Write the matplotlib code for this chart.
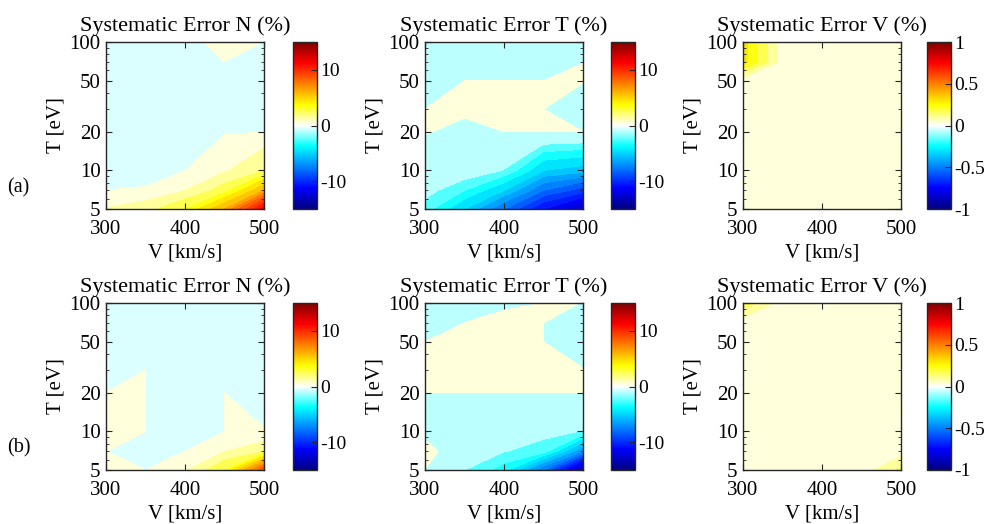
import numpy as np
import matplotlib
matplotlib.use("Agg")
import matplotlib.pyplot as plt
from matplotlib.colors import LinearSegmentedColormap, Normalize
from matplotlib.cm import ScalarMappable
from matplotlib.ticker import LogLocator, NullFormatter

plt.rcParams['font.family'] = ['Liberation Serif', 'DejaVu Serif']
plt.rcParams['axes.unicode_minus'] = False
plt.rcParams['font.size'] = 15

# grid of the simulation
v_kms = [300, 350, 400, 450, 500]
t_ev = [5, 7, 10, 20, 30, 50, 70, 100]

# systematic errors (%), rows follow t_ev, columns follow v_kms
err_n_a = [[1.05, 1.6, 3.0, 6.0, 11.5],
           [0.001, 0.1, 0.98, 2.5, 6.0],
           [-0.7, -0.5, -0.01, 0.85, 2.0],
           [-0.5, -0.5, -0.5, -0.1, -0.01],
           [-0.4, -0.4, -0.4, -0.4, -0.4],
           [-0.3, -0.3, -0.3, -0.3, -0.3],
           [-0.3, -0.3, -0.3, -0.001, -0.2],
           [-0.3, -0.3, -0.3, 0.3, -0.01]]

err_t_a = [[-2.5, -5.0, -8.0, -11.0, -13.0],
           [-1.5, -3.0, -5.0, -8.0, -9.5],
           [-0.5, -1.0, -2.05, -5.0, -5.5],
           [0.06, -0.25, 0.001, 0.001, 0.0001],
           [-0.001, 0.2, 0.5, 0.001, -0.9],
           [-0.5, 0.001, 0.001, 0.001, 0.1],
           [-0.5, -0.5, -0.5, -0.5, -0.01],
           [-0.5, -0.5, -0.5, -0.5, -0.5]]

err_v_a = [[0.03, 0.03, 0.03, 0.03, 0.03],
           [0.03, 0.03, 0.03, 0.03, 0.03],
           [0.03, 0.03, 0.03, 0.03, 0.03],
           [0.03, 0.03, 0.03, 0.03, 0.03],
           [0.03, 0.03, 0.03, 0.03, 0.03],
           [0.03, 0.03, 0.03, 0.03, 0.03],
           [0.3, 0.03, 0.03, 0.03, 0.03],
           [0.3, 0.03, 0.03, 0.03, 0.03]]

err_n_b = [[0.3, 0.001, 0.9, 3.0, 9.0],
           [0.001, -0.3, 0.001, 0.95, 1.86],
           [0.3, 0.001, -0.5, 0.001, 0.02],
           [0.001, 0.001, -0.5, 0.001, -0.3],
           [-0.3, 0.001, -0.5, -0.3, -0.3],
           [-0.3, -0.3, -0.3, -0.3, -0.3],
           [-0.3, -0.3, -0.3, -0.3, -0.3],
           [-0.3, -0.3, -0.3, -0.3, -0.3]]

err_t_b = [[-0.016, -1.99, -3.5, -8.0, -14.0],
           [0.3, -0.6, -1.95, -2.5, -7.0],
           [-0.3, -0.5, -1.0, -1.6, -2.05],
           [0.001, 0.001, 0.001, 0.001, 0.001],
           [0.5, 0.5, 0.5, 0.5, 0.026],
           [0.001, 0.5, 0.5, 0.001, -0.5],
           [-0.5, 0.001, 0.5, 0.001, -0.5],
           [-0.5, -0.5, -0.33, 0.01, -0.001]]

err_v_b = [[0.03, 0.03, 0.03, 0.03, 0.15],
           [0.03, 0.03, 0.03, 0.03, 0.03],
           [0.03, 0.03, 0.03, 0.03, 0.03],
           [0.03, 0.03, 0.03, 0.03, 0.03],
           [0.03, 0.03, 0.03, 0.03, 0.03],
           [0.03, 0.03, 0.03, 0.03, 0.03],
           [0.03, 0.03, 0.03, 0.03, 0.03],
           [0.18, 0.03, 0.03, 0.03, 0.03]]

titles = ['Systematic Error N (%)', 'Systematic Error T (%)', 'Systematic Error V (%)']
row_labels = ['(a)', '(b)']
t_ticks = [5, 10, 20, 50, 100]
v_ticks = [300, 400, 500]

lev_n = np.arange(-15, 16)
lev_t = np.r_[np.arange(-15, -1), np.arange(0, 16)]
lev_v = np.linspace(-1, 1, 31)

cmap = LinearSegmentedColormap.from_list('jetwhite', [
    (0.0, (0, 0, 0.5)), (0.125, (0, 0, 1)), (0.375, (0, 1, 1)),
    (0.5, (1, 1, 1)), (0.625, (1, 1, 0)), (0.875, (1, 0, 0)),
    (1.0, (0.5, 0, 0))], N=256)

panels = [
    [(err_n_a, lev_n, 15, [-10, 0, 10], ['-10', '0', '10']),
     (err_t_a, lev_t, 15, [-10, 0, 10], ['-10', '0', '10']),
     (err_v_a, lev_v, 1, [-1, -0.5, 0, 0.5, 1], ['-1', '-0.5', '0', '0.5', '1'])],
    [(err_n_b, lev_n, 15, [-10, 0, 10], ['-10', '0', '10']),
     (err_t_b, lev_t, 15, [-10, 0, 10], ['-10', '0', '10']),
     (err_v_b, lev_v, 1, [-1, -0.5, 0, 0.5, 1], ['-1', '-0.5', '0', '0.5', '1'])],
]

W, H = 988, 524
ax_left = [106, 425, 743]
cb_left = [293, 611, 927]
ax_top = [42, 303]
ax_w, ax_h, cb_w = 158, 167, 24
dark = '#262626'

fig = plt.figure(figsize=(W / 100, H / 100), dpi=100)

for r in range(2):
    for c in range(3):
        z, lev, lim, cticks, clabels = panels[r][c]
        norm = Normalize(-lim, lim)
        ax = fig.add_axes([ax_left[c] / W, 1 - (ax_top[r] + ax_h) / H, ax_w / W, ax_h / H])
        ax.contourf(v_kms, t_ev, np.array(z), levels=lev, cmap=cmap, norm=norm)
        ax.set_yscale('log')
        ax.set_xlim(300, 500)
        ax.set_ylim(5, 100)
        ax.set_yticks(t_ticks)
        ax.set_yticklabels([str(t) for t in t_ticks])
        ax.yaxis.set_minor_locator(LogLocator(base=10, subs=np.arange(2, 10)))
        ax.yaxis.set_minor_formatter(NullFormatter())
        ax.set_xticks(v_ticks)
        ax.tick_params(which='both', direction='in', top=True, right=True,
                       colors=dark, labelcolor='black')
        ax.tick_params(axis='y', pad=4)
        ax.tick_params(axis='x', pad=8)
        ax.tick_params(which='major', length=4)
        ax.tick_params(which='minor', length=2.5)
        for s in ax.spines.values():
            s.set_color(dark)
            s.set_linewidth(1.0)
        ax.set_title(titles[c], pad=8, fontsize=16)
        ax.set_xlabel('V [km/s]', labelpad=3)
        ax.set_ylabel('T [eV]', labelpad=3)

        cax = fig.add_axes([cb_left[c] / W, 1 - (ax_top[r] + ax_h) / H, cb_w / W, ax_h / H])
        cb = fig.colorbar(ScalarMappable(norm=norm, cmap=cmap), cax=cax, ticks=cticks)
        cb.ax.set_yticklabels(clabels)
        cb.ax.tick_params(direction='in', length=4, colors=dark, labelcolor='black',
                          pad=2, labelsize=14)
        cb.outline.set_edgecolor(dark)
        cb.outline.set_linewidth(1.0)

fig.text(7 / W, 1 - 188 / H, row_labels[0], ha='left', va='center', fontsize=14.5)
fig.text(7 / W, 1 - 448 / H, row_labels[1], ha='left', va='center', fontsize=14.5)

fig.savefig('out.png', dpi=100)
